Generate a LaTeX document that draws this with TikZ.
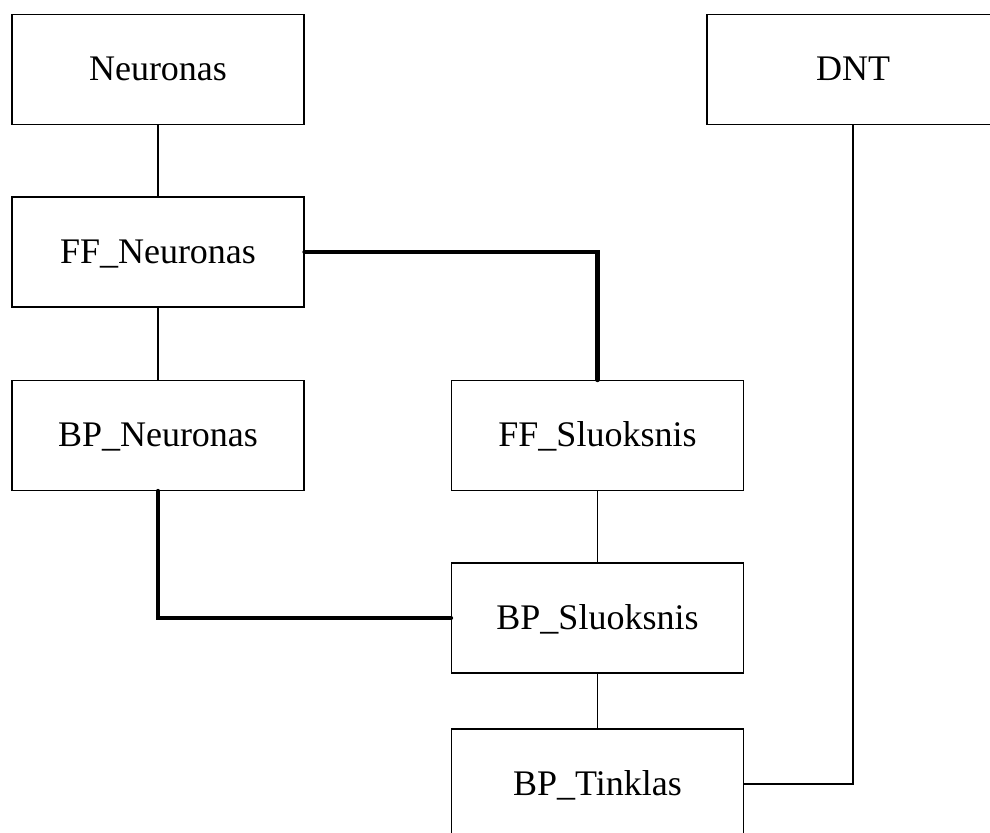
\documentclass[tikz,border=0pt]{standalone}
\usepackage{fontspec}
\setmainfont{Liberation Serif}
\begin{document}
\begin{tikzpicture}[x=0.5pt,y=-0.5pt,
  classbox/.style={draw, line width=0.65pt, rectangle, inner sep=0pt,
    minimum width=146pt, minimum height=55pt,
    text height=11pt, text depth=0pt,
    font=\fontsize{18}{20}\selectfont},
  thinlink/.style={line width=0.65pt},
  thicklink/.style={line width=2.3pt, line cap=round}]
  \useasboundingbox (0,0) rectangle (990,832);
  \clip (0,0) rectangle (990,832);

  % class boxes
  \node[classbox] (neur)  at (158,69.5)   {Neuronas};
  \node[classbox] (dnt)   at (853,69.5)   {DNT};
  \node[classbox] (ffn)   at (158,252)    {FF\_Neuronas};
  \node[classbox] (bpn)   at (158,435.5)  {BP\_Neuronas};
  \node[classbox] (ffs)   at (597.5,435.5){FF\_Sluoksnis};
  \node[classbox] (bps)   at (597.5,618)  {BP\_Sluoksnis};
  \node[classbox] (bpt)   at (597.5,784)  {BP\_Tinklas};

  % inheritance links
  \draw[thinlink] (neur.south) -- (ffn.north);
  \draw[thinlink] (ffn.south) -- (bpn.north);
  \draw[thinlink] (ffs.south) -- (bps.north);
  \draw[thinlink] (bps.south) -- (bpt.north);
  \draw[thinlink] (dnt.south) |- (bpt.east);

  % aggregation links
  \draw[thicklink] (ffn.east) -| (ffs.north);
  \draw[thicklink] (bpn.south) |- (bps.west);
\end{tikzpicture}
\end{document}
